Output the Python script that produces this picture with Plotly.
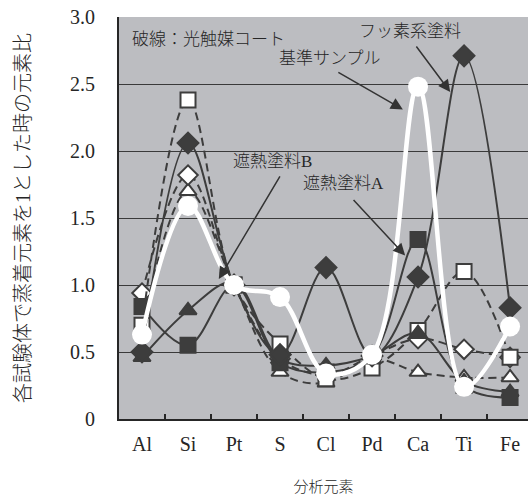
import plotly.graph_objects as go

# Analysed elements (x categories)
elements = ["Al", "Si", "Pt", "S", "Cl", "Pd", "Ca", "Ti", "Fe"]

# Element ratio relative to the deposited element (Pt = 1)
fluoro_paint = [0.50, 2.06, 1.00, 0.48, 1.13, 0.47, 1.06, 2.71, 0.83]
heat_shield_a = [0.84, 0.55, 1.00, 0.42, 0.35, 0.47, 1.34, 0.25, 0.16]
heat_shield_b = [0.46, 0.81, 1.02, 0.45, 0.40, 0.47, 0.64, 0.28, 0.20]
reference_sample = [0.63, 1.59, 1.00, 0.91, 0.34, 0.48, 2.48, 0.24, 0.69]

# Photocatalyst-coated versions (dashed lines, open markers)
coat_a = [0.70, 2.38, 1.00, 0.56, 0.30, 0.38, 0.66, 1.10, 0.46]
coat_fluoro = [0.94, 1.82, 1.00, 0.45, 0.33, 0.47, 0.60, 0.52, 0.46]
coat_b = [0.68, 1.70, 1.00, 0.35, 0.27, 0.45, 0.35, 0.31, 0.31]

y_ticks = [0, 0.5, 1.0, 1.5, 2.0, 2.5, 3.0]
y_tick_text = ["0", "0.5", "1.0", "1.5", "2.0", "2.5", "3.0"]

DARK = "#3d3d3d"
BG = "#bcbdc1"
TEXT = "#262626"
FONT = "Liberation Serif, Noto Sans CJK JP, serif"

fig = go.Figure()

def add_series(values, symbol, fill, dashed, size):
    fig.add_trace(go.Scatter(
        x=elements, y=values, mode="lines+markers",
        line=dict(color=DARK, width=2, shape="spline", smoothing=1.0,
                  dash="8px,5px" if dashed else "solid"),
        marker=dict(symbol=symbol, size=size, color=fill,
                    line=dict(color=DARK, width=2)),
        showlegend=False,
    ))

# dashed (coated) series underneath
add_series(coat_b, "triangle-up", "white", True, 15)
add_series(coat_fluoro, "diamond", "white", True, 15)
add_series(coat_a, "square", "white", True, 15)
# solid series
add_series(heat_shield_b, "triangle-up", DARK, False, 15)
add_series(heat_shield_a, "square", DARK, False, 15)
add_series(fluoro_paint, "diamond", DARK, False, 16)

# reference sample: thick white line with white circles
fig.add_trace(go.Scatter(
    x=elements, y=reference_sample, mode="lines+markers",
    line=dict(color="white", width=4.5, shape="spline", smoothing=1.0),
    marker=dict(symbol="circle", size=20, color="white"),
    showlegend=False,
))

ann_font = dict(family=FONT, size=17, color=TEXT, weight=300)
labels = [
    dict(text="破線：光触媒コート", x=-0.26, y=2.83, xanchor="left"),
    dict(text="基準サンプル", x=4.09, y=2.69, xanchor="center"),
    dict(text="フッ素系塗料", x=5.83, y=2.89, xanchor="center"),
    dict(text="遮熱塗料B", x=2.83, y=1.92, xanchor="center"),
    dict(text="遮熱塗料A", x=4.37, y=1.76, xanchor="center"),
]
for lab in labels:
    fig.add_annotation(x=lab["x"], y=lab["y"], text=lab["text"], showarrow=False,
                       xanchor=lab["xanchor"], yanchor="middle", font=ann_font)

arrows = [
    dict(x=5.67, y=2.31, ax=-66, ay=-38),   # 基準サンプル
    dict(x=6.70, y=2.44, ax=-35, ay=-47),   # フッ素系塗料
    dict(x=1.67, y=1.045, ax=62, ay=-104),  # 遮熱塗料B
    dict(x=5.72, y=1.22, ax=-53, ay=-57),   # 遮熱塗料A
]
for a in arrows:
    fig.add_annotation(x=a["x"], y=a["y"], ax=a["ax"], ay=a["ay"], text="",
                       showarrow=True, arrowhead=2, arrowsize=1.6, arrowwidth=1.5,
                       arrowcolor="#333333")

fig.update_layout(
    width=529, height=499,
    margin=dict(l=119, r=1, t=17, b=80),
    paper_bgcolor="white", plot_bgcolor=BG,
    font=dict(family=FONT, color=TEXT),
)
fig.update_xaxes(
    range=[-0.5, 8.39], tickson="boundaries", ticks="inside", ticklen=5,
    tickcolor=TEXT, tickwidth=1.5, showgrid=False,
    showline=True, linecolor=TEXT, linewidth=2,
    tickfont=dict(family=FONT, size=20, color=TEXT),
    ticklabelstandoff=6,
    title=dict(text="分析元素", font=dict(family=FONT, size=15, color=TEXT, weight=300),
               standoff=27),
)
fig.update_yaxes(
    range=[0, 3.0], tickvals=y_ticks, ticktext=y_tick_text, ticks="",
    showgrid=True, gridcolor="#3a3a3a", gridwidth=1.2, zeroline=False,
    showline=True, linecolor=TEXT, linewidth=2,
    tickfont=dict(family=FONT, size=20, color=TEXT),
    ticklabelstandoff=18,
    title=dict(text="各試験体で蒸着元素を1とした時の元素比",
               font=dict(family=FONT, size=20, color=TEXT, weight=300), standoff=34),
)

fig.write_html("out.html")
